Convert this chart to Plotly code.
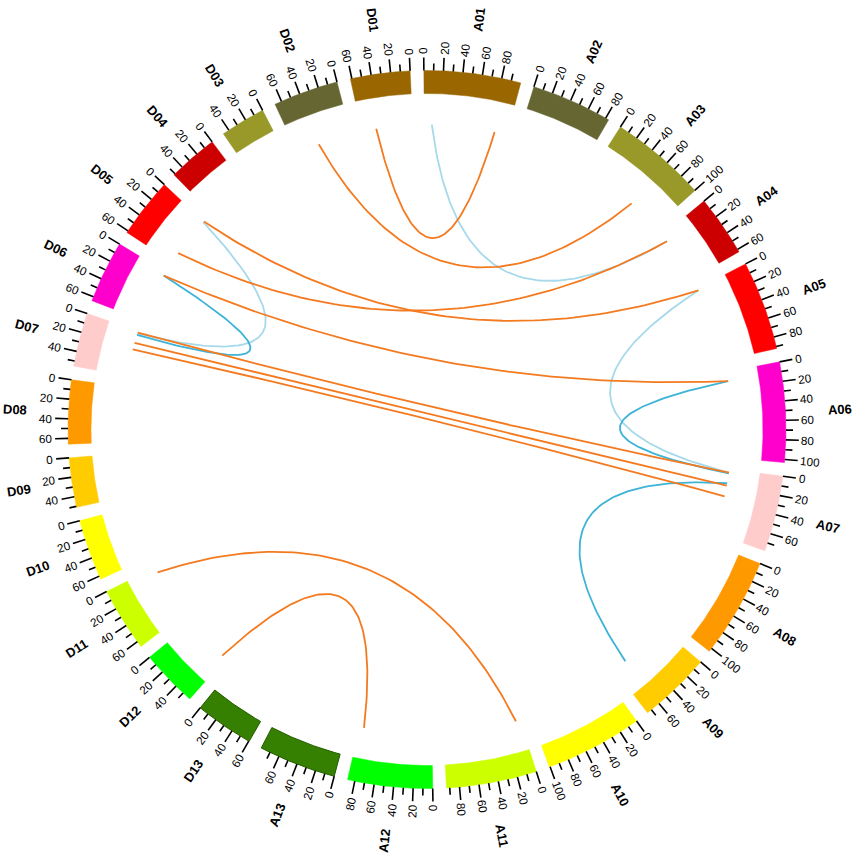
import numpy as np
import plotly.graph_objects as go

# chromosome names and sizes (Mb)
a_names = ["A01", "A02", "A03", "A04", "A05", "A06", "A07", "A08", "A09", "A10", "A11", "A12", "A13"]
a_sizes = [99.88, 83.45, 100.26, 62.91, 92.05, 103.17, 78.25, 103.63, 75.00, 100.87, 93.32, 87.48, 79.96]
d_names = ["D01", "D02", "D03", "D04", "D05", "D06", "D07", "D08", "D09", "D10", "D11", "D12", "D13"]
d_sizes = [61.46, 67.28, 46.69, 51.45, 61.93, 64.29, 55.31, 65.89, 51.00, 63.37, 66.09, 59.11, 60.53]
chr_colors = ["#996600", "#666633", "#99992a", "#cc0000", "#ff0000", "#ff00cc", "#ffcccc",
              "#ff9900", "#ffcc00", "#ffff00", "#ccff00", "#00ff00", "#358000"]

# links: chromosome / position (Mb) of both ends
link_chr1 = ["A01", "D05", "D06", "A05", "A06", "A07",
             "D01", "D02", "D05", "D05", "D06", "D07", "D07", "D07", "D11", "D12"]
link_pos1 = [9, 1, 5, 2, 11, 17,
             44, 40, 0, 49, 5, 2, 15, 23, 7, 54]
link_chr2 = ["A04", "D07", "D07", "A07", "A07", "A09",
             "A01", "A03", "A05", "A04", "A06", "A07", "A07", "A07", "A11", "A12"]
link_pos2 = [9, 3, 5, 4, 5, 58,
             85, 61, 2, 9, 11, 4, 20, 33, 5, 82]
link_color = ["#a6d9ea", "#a6d9ea", "#3db3d6", "#a6d9ea", "#3db3d6", "#3db3d6",
              "#f47a20", "#f47a20", "#f47a20", "#f47a20", "#f47a20", "#f47a20",
              "#f47a20", "#f47a20", "#f47a20", "#f47a20"]

GAP = 2.2        # degrees between chromosomes
START = -0.5     # angle of A01 start (clockwise from top)
R_IN, R_OUT = 336, 359
R_LINK = 305
FONT = "Arial, Liberation Sans, sans-serif"

W, H = 856, 853
CX, CY = 427, 429.5

total = sum(a_sizes) + sum(d_sizes)
k = (360 - GAP * 26) / total

# A chromosomes clockwise, then D13 .. D01 reversed
order = [(n, s, c, False) for n, s, c in zip(a_names, a_sizes, chr_colors)]
order += [(n, s, c, True) for n, s, c in reversed(list(zip(d_names, d_sizes, chr_colors)))]

info = {}
t = START
for name, size, color, rev in order:
    info[name] = (t, size, rev, color)
    t += size * k + GAP


def ang(name, pos):
    s, size, rev, _ = info[name]
    return s + ((size - pos) if rev else pos) * k


def xy(theta, r):
    th = np.radians(theta)
    return r * np.sin(th), r * np.cos(th)


def text_angle(theta):
    th = theta % 360
    return th - 90 if th < 180 else th - 270


fig = go.Figure()

# ideogram bands
for name, size, color, rev in order:
    s = info[name][0]
    th = np.linspace(s, s + size * k, 40)
    xo, yo = xy(th, R_OUT)
    xi, yi = xy(th[::-1], R_IN)
    line_col = "#245c00" if name.endswith("13") else color
    fig.add_trace(go.Scatter(x=np.r_[xo, xi, xo[0]], y=np.r_[yo, yi, yo[0]], mode="lines",
                             fill="toself", fillcolor=color,
                             line=dict(color=line_col, width=1 if name.endswith("13") else 0.5),
                             hoverinfo="skip", showlegend=False))

# ticks and labels
tx, ty = [], []
annotations = []
for name, size, color, rev in order:
    for pos in range(0, int(size) + 1, 10):
        theta = ang(name, pos)
        r2 = R_OUT + 13 if pos % 20 == 0 else R_OUT + 7
        x1, y1 = xy(theta, R_OUT)
        x2, y2 = xy(theta, r2)
        tx += [x1, x2, None]
        ty += [y1, y2, None]
        if pos % 20 == 0:
            label = str(pos)
            rc = R_OUT + 16 + 6.5 * len(label) / 2
            lx, ly = xy(theta, rc)
            annotations.append(dict(x=lx, y=ly, text=label, showarrow=False,
                                    textangle=text_angle(theta),
                                    font=dict(family=FONT, size=11.7, color="black"),
                                    xanchor="center", yanchor="middle"))
    mid = info[name][0] + size * k / 2
    nx, ny = xy(mid, 413)
    annotations.append(dict(x=nx, y=ny, text="<b>%s</b>" % name, showarrow=False,
                            textangle=text_angle(mid),
                            font=dict(family=FONT, size=13, color="black"),
                            xanchor="center", yanchor="middle"))

fig.add_trace(go.Scatter(x=tx, y=ty, mode="lines", line=dict(color="black", width=1.6),
                         hoverinfo="skip", showlegend=False))

# links as quadratic bezier curves
tt = np.linspace(0, 1, 80)[:, None]
for c1, p1, c2, p2, col in zip(link_chr1, link_pos1, link_chr2, link_pos2, link_color):
    P0 = np.array(xy(ang(c1, p1), R_LINK))
    P2 = np.array(xy(ang(c2, p2), R_LINK))
    M = (P0 + P2) / 2
    d = np.hypot(*M)
    C = M / d * (12 + 0.24 * d)
    B = (1 - tt) ** 2 * P0 + 2 * (1 - tt) * tt * C + tt ** 2 * P2
    fig.add_trace(go.Scatter(x=B[:, 0], y=B[:, 1], mode="lines",
                             line=dict(color=col, width=1.8),
                             hoverinfo="skip", showlegend=False))

fig.update_layout(
    width=W, height=H, autosize=False,
    margin=dict(l=0, r=0, t=0, b=0),
    paper_bgcolor="white", plot_bgcolor="white",
    xaxis=dict(range=[-CX, W - CX], visible=False, fixedrange=True),
    yaxis=dict(range=[CY - H, CY], visible=False, fixedrange=True),
    annotations=annotations,
)

# drop the default page margin so the figure fills the window
fig.write_html("out.html", config={"displayModeBar": False},
               post_script="document.body.style.margin='0';")
